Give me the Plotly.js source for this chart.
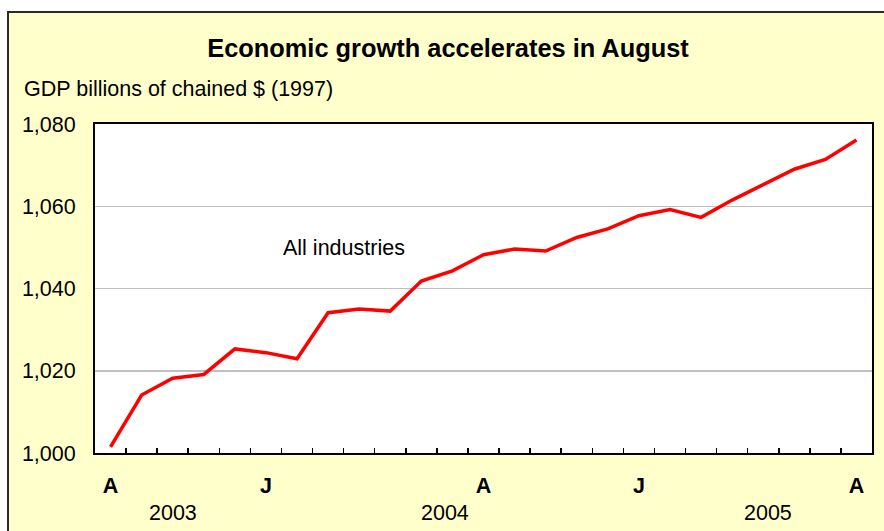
<!DOCTYPE html>
<html>
<head>
<meta charset="utf-8">
<script src="https://cdn.plot.ly/plotly-3.0.1.min.js"></script>
<style>
  html, body { margin: 0; padding: 0; background: #ffffff; overflow: hidden; width: 884px; height: 531px; }
  #frame { position: absolute; left: 7px; top: 11px; width: 900px; height: 600px; background: #FFFFCC; border: 2px solid #2a2a2a; }
  #chart { position: absolute; left: 0; top: 0; width: 884px; height: 531px; }
</style>
</head>
<body>
<div id="frame"></div>
<div id="chart"></div>
<script>
// Months, August 2003 through August 2005
const months = [
  '2003-08','2003-09','2003-10','2003-11','2003-12',
  '2004-01','2004-02','2004-03','2004-04','2004-05','2004-06','2004-07','2004-08',
  '2004-09','2004-10','2004-11','2004-12',
  '2005-01','2005-02','2005-03','2005-04','2005-05','2005-06','2005-07','2005-08'
];
// GDP, billions of chained 1997 dollars (all industries)
const gdpAllIndustries = [
  1001.5, 1014.1, 1018.2, 1019.1, 1025.3,
  1024.4, 1022.9, 1034.1, 1035.0, 1034.5, 1041.8, 1044.3, 1048.2,
  1049.6, 1049.1, 1052.4, 1054.5,
  1057.7, 1059.2, 1057.3, 1061.5, 1065.3, 1069.0, 1071.4, 1076.1
];
// Month labels shown on the axis (blank for unlabeled months)
const monthTickLabels = [
  'A','','','','',
  'J','','','','','','','A',
  '','','','',
  'J','','','','','','','A'
];
const yearLabels = ['2003', '2004', '2005'];
const yearLabelCategoryPos = [2, 10.75, 21.15];
const yTickValues = [1000, 1020, 1040, 1060, 1080];

const FONT = 'Liberation Sans, Arial, sans-serif';
const FS = 21.5;

const trace = {
  type: 'scatter',
  mode: 'lines',
  x: months,
  y: gdpAllIndustries,
  line: { color: '#FF0000', width: 3.5 },
  hoverinfo: 'x+y',
  showlegend: false
};

const annotations = [
  {
    text: 'GDP billions of chained $ (1997)',
    xref: 'paper', yref: 'paper',
    x: -0.094, y: 1.1064,
    xanchor: 'left', yanchor: 'middle',
    showarrow: false,
    font: { family: FONT, size: FS, color: '#000000' }
  },
  {
    text: 'All industries',
    xref: 'x', yref: 'y',
    x: 7.5, y: 1049.8,
    xanchor: 'center', yanchor: 'middle',
    showarrow: false,
    font: { family: FONT, size: FS, color: '#000000' }
  }
];
yearLabels.forEach((yr, i) => {
  annotations.push({
    text: yr,
    xref: 'x', yref: 'paper',
    x: yearLabelCategoryPos[i], y: -0.1824,
    xanchor: 'center', yanchor: 'middle',
    showarrow: false,
    font: { family: FONT, size: FS, color: '#000000' }
  });
});

const layout = {
  width: 884,
  height: 531,
  paper_bgcolor: 'rgba(0,0,0,0)',
  plot_bgcolor: '#FFFFFF',
  margin: { l: 95, r: 12, t: 124, b: 78 },
  font: { family: FONT, size: FS, color: '#000000' },
  title: {
    text: 'Economic growth accelerates in August',
    xref: 'container', yref: 'container',
    x: 0.5068, y: 0.9096,
    xanchor: 'center', yanchor: 'middle',
    font: { family: FONT, size: 25.4, weight: 'bold', color: '#000000' }
  },
  xaxis: {
    type: 'category',
    categoryorder: 'array',
    categoryarray: months,
    tickmode: 'array',
    tickvals: months,
    ticktext: monthTickLabels,
    tickson: 'boundaries',
    ticks: 'inside',
    ticklen: 5,
    tickwidth: 1.5,
    tickcolor: '#000000',
    tickangle: 0,
    ticklabelstandoff: 12,
    tickfont: { family: FONT, size: FS, weight: 'bold', color: '#000000' },
    showgrid: false,
    zeroline: false,
    showline: true,
    mirror: true,
    linecolor: '#000000',
    linewidth: 2,
    range: [-0.5, months.length - 0.5],
    fixedrange: true
  },
  yaxis: {
    range: [1000, 1080],
    tickmode: 'array',
    tickvals: yTickValues,
    tickformat: ',d',
    ticks: '',
    ticklabelstandoff: 13,
    tickfont: { family: FONT, size: FS, color: '#000000' },
    showgrid: true,
    gridcolor: '#C0C0C0',
    gridwidth: 1.5,
    zeroline: false,
    showline: true,
    mirror: true,
    linecolor: '#000000',
    linewidth: 2,
    fixedrange: true
  },
  annotations: annotations
};

Plotly.newPlot('chart', [trace], layout, { displayModeBar: false, staticPlot: true });
</script>
</body>
</html>
